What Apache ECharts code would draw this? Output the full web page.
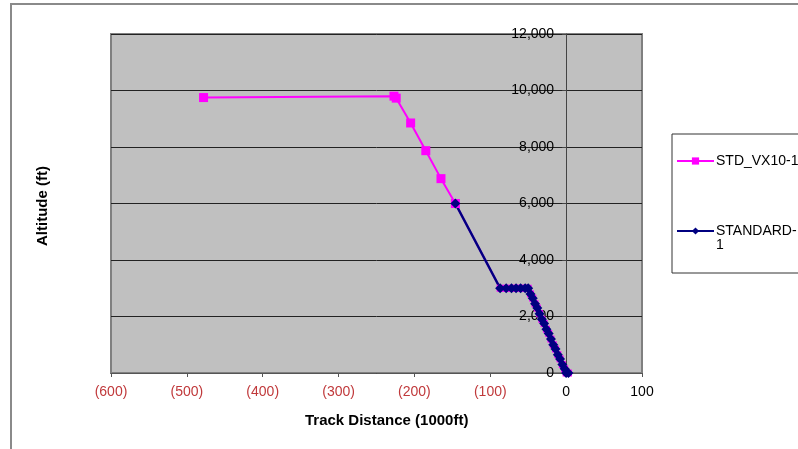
<!DOCTYPE html>
<html>
<head>
<meta charset="utf-8">
<script src="https://cdn.jsdelivr.net/npm/echarts@6/dist/echarts.min.js"></script>
<style>
  html, body { margin: 0; padding: 0; background: #ffffff; }
  #chart { width: 798px; height: 449px; }
</style>
</head>
<body>
<div id="chart"></div>
<script>
// Approach profiles: track distance (1000 ft) vs altitude (ft)
const vx10Dist = [-478, -227, -224, -205, -185, -165, -146, -87, -79, -72, -66, -60, -54, -50, -47, -44, -41, -38, -35, -32, -29, -26, -23, -20, -17, -14, -11, -8, -5, -2, 0, 3];
const vx10Alt  = [9750, 9800, 9730, 8850, 7870, 6880, 6000, 3000, 3000, 3000, 3000, 3000, 3000, 3000, 2800, 2650, 2450, 2300, 2100, 1900, 1750, 1550, 1400, 1200, 1000, 850, 650, 500, 300, 150, 0, 0];

const stdDist = [-146, -87, -79, -72, -66, -60, -54, -50, -47, -44, -41, -38, -35, -32, -29, -26, -23, -20, -17, -14, -11, -8, -5, -2, 0, 3];
const stdAlt  = [6000, 3000, 3000, 3000, 3000, 3000, 3000, 3000, 2800, 2650, 2450, 2300, 2100, 1900, 1750, 1550, 1400, 1200, 1000, 850, 650, 500, 300, 150, 0, 0];

const seriesNames = ['STD_VX10-1', 'STANDARD-1'];
const xTicks = { min: -600, max: 100, step: 100 };
const yTicks = { min: 0, max: 12000, step: 2000 };

const pairs = (xs, ys) => xs.map((x, i) => [x, ys[i]]);
const FONT = 'Liberation Sans, Arial, sans-serif';

const GRID = { left: 111, top: 34, width: 531, height: 339 };
// the altitude axis crosses the distance axis at 0
const yAxisShift = GRID.width * (0 - xTicks.min) / (xTicks.max - xTicks.min);

const chart = echarts.init(document.getElementById('chart'), null, { renderer: 'canvas' });

chart.setOption({
  backgroundColor: '#ffffff',
  animation: false,
  textStyle: { fontFamily: FONT },
  grid: Object.assign({
    show: true,
    backgroundColor: '#c0c0c0',
    borderColor: '#808080',
    borderWidth: 2
  }, GRID),
  xAxis: {
    type: 'value',
    min: xTicks.min, max: xTicks.max, interval: xTicks.step,
    axisLine: { show: true, onZero: false, lineStyle: { color: '#555', width: 1 } },
    axisTick: { show: true, length: 4, lineStyle: { color: '#555' } },
    splitLine: { show: false },
    axisLabel: {
      margin: 12,
      fontSize: 14,
      fontFamily: FONT,
      color: v => (v < 0 ? '#c0393b' : '#000'),
      formatter: v => (v < 0 ? '(' + Math.abs(v) + ')' : String(v))
    }
  },
  yAxis: {
    type: 'value',
    position: 'left',
    offset: -yAxisShift,
    min: yTicks.min, max: yTicks.max, interval: yTicks.step,
    axisLine: { show: true, onZero: false, lineStyle: { color: '#444', width: 1 } },
    axisTick: { show: true, length: 4, lineStyle: { color: '#444' } },
    splitLine: { show: true, lineStyle: { color: '#222', width: 1 } },
    axisLabel: {
      margin: 12,
      fontSize: 14,
      fontFamily: FONT,
      color: '#000',
      formatter: v => v.toLocaleString('en-US')
    }
  },
  legend: {
    orient: 'vertical',
    left: 672, top: 134,
    padding: [20, 120, 21, 4],
    itemGap: 42,
    itemWidth: 37,
    itemHeight: 9,
    borderColor: '#333',
    borderWidth: 1,
    backgroundColor: '#ffffff',
    textStyle: { fontSize: 14, lineHeight: 14, fontFamily: FONT, color: '#000', padding: [0, 0, 0, -3] },
    // wrapped name: blank first line keeps "STANDARD-" level with its marker
    formatter: name => (name === 'STANDARD-1' ? '\nSTANDARD-\n1' : name),
    data: seriesNames
  },
  graphic: [
    {
      type: 'rect', silent: true, z: -1,
      shape: { x: 11, y: 4, width: 900, height: 500 },
      style: { fill: 'none', stroke: '#8a8a8a', lineWidth: 2 }
    },
    {
      type: 'text', left: 305, top: 413,
      style: { text: 'Track Distance (1000ft)', font: 'bold 15px ' + FONT, fill: '#000' }
    },
    {
      type: 'text', x: 43, y: 206, rotation: Math.PI / 2,
      style: { text: 'Altitude (ft)', font: 'bold 15px ' + FONT, fill: '#000', align: 'center', verticalAlign: 'middle' }
    }
  ],
  series: [
    {
      name: seriesNames[0],
      type: 'line',
      data: pairs(vx10Dist, vx10Alt),
      symbol: 'rect',
      symbolSize: (val) => (val[1] <= 3000 ? 7 : 9),
      itemStyle: { color: '#ff00ff' },
      lineStyle: { color: '#ff00ff', width: 2 }
    },
    {
      name: seriesNames[1],
      type: 'line',
      data: pairs(stdDist, stdAlt),
      symbol: 'diamond',
      symbolSize: 10,
      itemStyle: { color: '#000080' },
      lineStyle: { color: '#000080', width: 2.5 }
    }
  ]
});
</script>
</body>
</html>
